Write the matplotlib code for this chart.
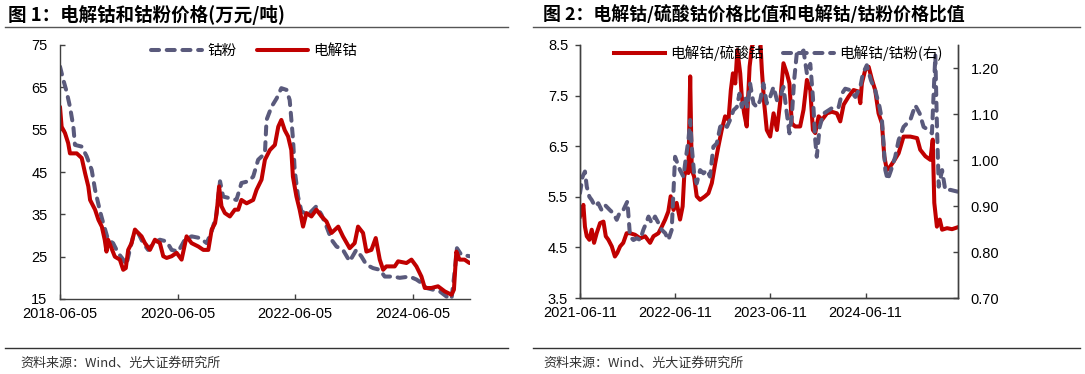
import matplotlib
matplotlib.use('Agg')
import matplotlib.pyplot as plt
import matplotlib.dates as mdates
import pandas as pd


# =============================================================================
# Data
# =============================================================================
# Figure 1: electrolytic cobalt and cobalt powder prices (10k yuan / t)
metal_dates = [
    '2018-06-05', '2018-06-15', '2018-07-06', '2018-07-26', '2018-08-06',
    '2018-09-17', '2018-10-18', '2018-11-08', '2018-11-28', '2018-12-09',
    '2019-01-09', '2019-01-30', '2019-02-20', '2019-03-10', '2019-03-21',
    '2019-03-31', '2019-04-21', '2019-05-12', '2019-06-12', '2019-07-03',
    '2019-07-19', '2019-08-03', '2019-08-24', '2019-09-14', '2019-10-04',
    '2019-10-25', '2019-11-15', '2019-12-16', '2020-01-16', '2020-02-16',
    '2020-03-08', '2020-03-29', '2020-04-29', '2020-05-30', '2020-06-30',
    '2020-07-31', '2020-08-31', '2020-10-12', '2020-11-12', '2020-12-13',
    '2021-01-03', '2021-01-24', '2021-02-03', '2021-02-18', '2021-03-05',
    '2021-03-26', '2021-04-26', '2021-05-27', '2021-06-17', '2021-07-07',
    '2021-08-08', '2021-09-18', '2021-10-09', '2021-11-09', '2021-11-30',
    '2021-12-31', '2022-01-31', '2022-02-21', '2022-03-12', '2022-04-02',
    '2022-04-23', '2022-05-13', '2022-05-23', '2022-06-14', '2022-07-04',
    '2022-07-25', '2022-08-15', '2022-09-15', '2022-10-16', '2022-11-17',
    '2022-12-18', '2023-01-18', '2023-03-01', '2023-03-30', '2023-05-11',
    '2023-06-11', '2023-07-02', '2023-08-02', '2023-08-23', '2023-09-23',
    '2023-10-20', '2023-11-14', '2023-12-05', '2023-12-25', '2024-02-15',
    '2024-03-07', '2024-04-28', '2024-05-29', '2024-06-29', '2024-07-30',
    '2024-08-20', '2024-09-30', '2024-11-10', '2024-12-22', '2025-02-02',
    '2025-02-17', '2025-03-04', '2025-03-24', '2025-04-24', '2025-05-25']
cobalt_metal = [
    60.4, 55.7, 54.2, 51.8, 49.4, 49.4, 48.3, 44.7, 41.6, 38.4,
    36.1, 33.7, 32.1, 29.0, 26.2, 29.0, 27.0, 25.0, 24.3, 21.9,
    22.3, 26.6, 28.2, 31.4, 30.6, 29.8, 28.2, 26.6, 29.0, 28.2,
    25.1, 24.7, 25.1, 25.9, 24.3, 29.8, 28.2, 27.4, 26.6, 26.6,
    31.4, 32.9, 35.3, 41.6, 36.9, 35.3, 34.5, 36.1, 36.1, 38.4,
    37.6, 38.4, 40.8, 43.2, 47.9, 50.2, 51.4, 55.7, 57.3, 54.9,
    53.4, 50.2, 43.9, 39.2, 36.1, 32.1, 35.3, 34.5, 36.1, 34.5,
    33.3, 30.6, 32.1, 29.8, 27.0, 28.2, 32.1, 30.6, 26.2, 26.6,
    29.4, 24.3, 21.9, 22.7, 22.7, 23.9, 23.5, 24.3, 22.7, 20.3,
    17.6, 17.6, 18.0, 16.8, 16.0, 17.2, 26.2, 24.3, 24.3, 23.5]

powder_dates = [
    '2018-06-05', '2018-06-26', '2018-07-16', '2018-08-06', '2018-08-27',
    '2018-09-06', '2018-10-18', '2018-11-18', '2018-12-19', '2019-01-09',
    '2019-02-09', '2019-03-01', '2019-03-31', '2019-05-01', '2019-06-01',
    '2019-07-03', '2019-07-23', '2019-08-13', '2019-09-03', '2019-10-04',
    '2019-11-04', '2019-12-05', '2020-01-05', '2020-02-16', '2020-03-29',
    '2020-04-29', '2020-06-09', '2020-07-20', '2020-08-31', '2020-10-22',
    '2020-12-03', '2021-01-03', '2021-01-30', '2021-02-24', '2021-03-15',
    '2021-04-26', '2021-06-06', '2021-07-07', '2021-08-18', '2021-09-18',
    '2021-10-19', '2021-11-30', '2021-12-10', '2022-01-10', '2022-02-11',
    '2022-03-12', '2022-04-13', '2022-05-03', '2022-05-24', '2022-06-03',
    '2022-06-24', '2022-07-15', '2022-08-25', '2022-10-16', '2022-11-17',
    '2022-12-18', '2023-01-18', '2023-02-18', '2023-03-30', '2023-05-11',
    '2023-06-21', '2023-07-22', '2023-08-23', '2023-10-03', '2023-11-14',
    '2023-12-15', '2024-02-05', '2024-03-17', '2024-05-18', '2024-06-29',
    '2024-07-30', '2024-08-30', '2024-10-10', '2024-11-21', '2025-01-01',
    '2025-02-02', '2025-02-23', '2025-03-08', '2025-04-03', '2025-05-25']
cobalt_powder = [
    69.9, 66.7, 64.0, 60.4, 55.7, 51.4, 51.0, 48.7, 45.5, 40.8,
    35.7, 32.9, 29.0, 28.2, 25.9, 24.3, 23.1, 26.6, 29.8, 30.6,
    28.2, 26.6, 28.2, 29.0, 28.6, 26.6, 26.2, 29.0, 29.8, 29.4,
    28.2, 31.0, 34.5, 42.8, 39.2, 38.8, 38.4, 42.4, 42.8, 43.9,
    47.9, 49.4, 57.3, 60.4, 62.4, 64.8, 64.4, 62.0, 52.6, 45.5,
    39.2, 35.7, 34.9, 36.9, 34.9, 32.1, 29.0, 27.4, 26.6, 23.9,
    26.6, 25.1, 23.1, 22.3, 21.9, 20.3, 20.3, 20.0, 20.3, 19.6,
    18.8, 17.6, 17.2, 16.8, 15.6, 15.0, 21.9, 27.0, 25.5, 25.1]

# Figure 2: price ratios
sulfate_dates = [
    '2021-06-11', '2021-06-17', '2021-06-24', '2021-06-30', '2021-07-07',
    '2021-07-17', '2021-07-26', '2021-08-04', '2021-08-14', '2021-08-27',
    '2021-09-09', '2021-09-18', '2021-09-28', '2021-10-11', '2021-10-23',
    '2021-11-01', '2021-11-12', '2021-11-24', '2021-12-07', '2021-12-20',
    '2022-01-08', '2022-01-28', '2022-02-16', '2022-03-07', '2022-03-20',
    '2022-04-08', '2022-04-21', '2022-05-04', '2022-05-16', '2022-05-25',
    '2022-06-05', '2022-06-17', '2022-06-30', '2022-07-10', '2022-07-16',
    '2022-07-26', '2022-08-01', '2022-08-08', '2022-08-14', '2022-08-23',
    '2022-09-02', '2022-09-15', '2022-10-04', '2022-10-17', '2022-10-30',
    '2022-11-12', '2022-11-24', '2022-12-07', '2022-12-20', '2023-01-02',
    '2023-01-11', '2023-01-19', '2023-01-28', '2023-02-05', '2023-02-16',
    '2023-02-22', '2023-03-03', '2023-03-13', '2023-03-24', '2023-04-02',
    '2023-04-14', '2023-05-04', '2023-05-10', '2023-05-19', '2023-05-29',
    '2023-06-11', '2023-06-24', '2023-07-07', '2023-07-19', '2023-08-01',
    '2023-08-14', '2023-08-24', '2023-09-02', '2023-09-15', '2023-10-04',
    '2023-10-17', '2023-10-30', '2023-11-12', '2023-11-22', '2023-12-01',
    '2023-12-14', '2023-12-27', '2024-01-15', '2024-02-03', '2024-02-22',
    '2024-03-06', '2024-03-19', '2024-04-07', '2024-04-26', '2024-05-15',
    '2024-05-22', '2024-05-28', '2024-06-10', '2024-06-23', '2024-07-06',
    '2024-07-18', '2024-07-31', '2024-08-13', '2024-08-22', '2024-09-01',
    '2024-09-14', '2024-09-27', '2024-10-16', '2024-11-04', '2024-11-30',
    '2024-12-26', '2025-01-07', '2025-01-27', '2025-02-15', '2025-02-24',
    '2025-03-02', '2025-03-12', '2025-03-23', '2025-04-01', '2025-04-20',
    '2025-05-09', '2025-06-01']
ratio_sulfate = [
    5.11, 5.21, 5.34, 4.91, 4.72, 4.65, 4.85, 4.59, 4.78, 4.98,
    5.01, 4.72, 4.65, 4.52, 4.32, 4.39, 4.52, 4.59, 4.78, 4.78,
    4.75, 4.68, 4.72, 4.59, 4.72, 4.78, 4.91, 5.05, 5.21, 5.51,
    5.24, 5.38, 5.05, 5.31, 5.90, 6.10, 5.97, 7.88, 6.03, 5.90,
    5.51, 5.44, 5.51, 5.57, 5.77, 6.16, 6.49, 6.82, 7.09, 7.02,
    7.61, 7.94, 7.74, 8.40, 7.94, 7.48, 7.15, 6.89, 8.07, 8.47,
    8.60, 8.60, 8.01, 7.35, 6.82, 6.69, 7.15, 6.82, 7.35, 8.14,
    7.94, 7.74, 6.95, 6.89, 6.89, 7.22, 7.81, 7.61, 6.82, 6.76,
    7.09, 7.02, 7.15, 7.18, 7.15, 6.99, 7.32, 7.48, 7.61, 7.58,
    7.35, 7.74, 8.01, 8.07, 7.81, 7.61, 7.15, 6.95, 6.30, 6.03,
    6.10, 6.20, 6.36, 6.69, 6.69, 6.66, 6.43, 6.30, 6.23, 6.63,
    5.38, 4.91, 5.05, 4.85, 4.88, 4.86, 4.90]

ratio_powder_dates = [
    '2021-06-11', '2021-06-21', '2021-06-30', '2021-07-07', '2021-07-17',
    '2021-07-26', '2021-08-08', '2021-08-20', '2021-09-02', '2021-09-15',
    '2021-10-04', '2021-10-17', '2021-10-30', '2021-11-12', '2021-11-24',
    '2021-12-10', '2021-12-20', '2022-01-02', '2022-01-15', '2022-01-28',
    '2022-02-09', '2022-02-20', '2022-03-01', '2022-03-13', '2022-03-26',
    '2022-04-08', '2022-04-21', '2022-05-04', '2022-05-16', '2022-05-29',
    '2022-06-11', '2022-06-20', '2022-06-30', '2022-07-13', '2022-07-23',
    '2022-08-01', '2022-08-08', '2022-08-14', '2022-08-23', '2022-09-02',
    '2022-09-15', '2022-09-28', '2022-10-11', '2022-10-23', '2022-11-05',
    '2022-11-18', '2022-12-01', '2022-12-14', '2022-12-27', '2023-01-08',
    '2023-01-21', '2023-02-03', '2023-02-13', '2023-02-22', '2023-03-07',
    '2023-03-16', '2023-03-26', '2023-04-08', '2023-04-21', '2023-05-04',
    '2023-05-16', '2023-05-29', '2023-06-11', '2023-06-24', '2023-07-07',
    '2023-07-19', '2023-08-01', '2023-08-14', '2023-08-24', '2023-09-02',
    '2023-09-11', '2023-09-21', '2023-10-04', '2023-10-17', '2023-10-30',
    '2023-11-12', '2023-11-22', '2023-12-01', '2023-12-07', '2023-12-18',
    '2024-01-02', '2024-01-21', '2024-02-09', '2024-02-29', '2024-03-12',
    '2024-03-25', '2024-04-13', '2024-05-03', '2024-05-22', '2024-06-01',
    '2024-06-16', '2024-07-02', '2024-07-18', '2024-08-04', '2024-08-13',
    '2024-08-26', '2024-09-04', '2024-09-17', '2024-10-03', '2024-10-16',
    '2024-11-04', '2024-11-30', '2024-12-19', '2025-01-05', '2025-01-20',
    '2025-02-08', '2025-02-21', '2025-02-28', '2025-03-06', '2025-03-12',
    '2025-03-19', '2025-04-01', '2025-04-13', '2025-05-03', '2025-06-01']
ratio_powder = [
    0.928, 0.964, 0.975, 0.942, 0.920, 0.913, 0.899, 0.906, 0.891, 0.902,
    0.891, 0.884, 0.870, 0.888, 0.891, 0.910, 0.834, 0.826, 0.830, 0.826,
    0.848, 0.863, 0.877, 0.863, 0.877, 0.863, 0.848, 0.841, 0.826, 0.848,
    1.007, 0.993, 0.978, 0.964, 1.007, 1.043, 1.087, 1.029, 0.971, 0.949,
    0.978, 0.971, 0.978, 0.964, 1.029, 1.036, 1.072, 1.079, 1.072, 1.087,
    1.108, 1.115, 1.144, 1.115, 1.137, 1.115, 1.166, 1.123, 1.115, 1.130,
    1.166, 1.123, 1.137, 1.159, 1.130, 1.137, 1.159, 1.101, 1.058, 1.094,
    1.173, 1.231, 1.231, 1.238, 1.188, 1.209, 1.137, 1.043, 1.007, 1.072,
    1.101, 1.108, 1.115, 1.115, 1.144, 1.155, 1.152, 1.137, 1.159, 1.188,
    1.206, 1.173, 1.152, 1.115, 1.087, 0.978, 0.957, 0.978, 1.007, 1.043,
    1.072, 1.087, 1.119, 1.101, 1.072, 1.065, 1.058, 1.152, 1.227, 1.079,
    0.942, 0.978, 0.935, 0.935, 0.931]

left_ticks = ['2018-06-05', '2020-06-05', '2022-06-05', '2024-06-05']
right_ticks = ['2021-06-11', '2022-06-11', '2023-06-11', '2024-06-11']
left_yticks = [15, 25, 35, 45, 55, 65, 75]
ratio_yticks = [3.5, 4.5, 5.5, 6.5, 7.5, 8.5]
ratio2_yticks = [0.70, 0.80, 0.90, 1.00, 1.10, 1.20]


# =============================================================================
# Plot parameters
# =============================================================================
plt.rcParams['font.family'] = ['Liberation Sans', 'Noto Sans CJK SC']
fontsize = 10.5
red = '#C00000'
slate = '#5A5A7C'
spine_color = '#404040'
lw = 2.9

fig = plt.figure(figsize=(10.85, 3.74), dpi=100)


def style_axis(ax, spines):
    for side in ['left', 'right', 'top', 'bottom']:
        ax.spines[side].set_visible(side in spines)
        ax.spines[side].set_color(spine_color)
        ax.spines[side].set_linewidth(1.0)
    ax.tick_params(colors=spine_color, labelcolor='black',
                   labelsize=fontsize, length=3.5, width=1.0)


# =============================================================================
# Header / footer decorations
# =============================================================================
cjk = ['Noto Sans CJK SC', 'DejaVu Sans']
fig.text(8 / 1085, 1 - 15 / 374, '图 1：电解钴和钴粉价格(万元/吨)',
         fontsize=13.3, fontweight='bold', family=cjk, va='center')
fig.text(543 / 1085, 1 - 15 / 374, '图 2：电解钴/硫酸钴价格比值和电解钴/钴粉价格比值',
         fontsize=12.9, fontweight='bold', family=cjk, va='center')
for x0, x1 in [(5, 508), (533, 1080)]:
    fig.add_artist(plt.Line2D([x0 / 1085, x1 / 1085], [1 - 27 / 374] * 2,
                              color='#555555', linewidth=1.0))
    fig.add_artist(plt.Line2D([x0 / 1085, x1 / 1085], [1 - 348 / 374] * 2,
                              color='#333333', linewidth=1.0))
fig.text(20 / 1085, 1 - 363 / 374, '资料来源：Wind、光大证券研究所',
         fontsize=9.4, family=cjk, va='center', color='#333333')
fig.text(543 / 1085, 1 - 363 / 374, '资料来源：Wind、光大证券研究所',
         fontsize=9.4, family=cjk, va='center', color='#333333')


# =============================================================================
# Figure 1: prices
# =============================================================================
ax1 = fig.add_axes([60 / 1085, 75 / 374, 410 / 1085, 254 / 374])
style_axis(ax1, ['left', 'bottom'])
ax1.plot(pd.to_datetime(powder_dates), cobalt_powder, color=slate,
         linewidth=lw, dashes=(2.0, 1.9), dash_capstyle='round',
         label='钴粉')
ax1.plot(pd.to_datetime(metal_dates), cobalt_metal, color=red,
         linewidth=lw, solid_capstyle='round', label='电解钴')
ax1.set_xlim(pd.Timestamp('2018-06-05'), pd.Timestamp('2025-05-28'))
ax1.set_ylim(15, 75)
ax1.set_yticks(left_yticks)
ax1.set_xticks(pd.to_datetime(left_ticks))
ax1.xaxis.set_major_formatter(mdates.DateFormatter('%Y-%m-%d'))
ax1.tick_params(axis='y', direction='in', pad=9)
ax1.tick_params(axis='x', direction='in', pad=6)
leg1 = ax1.legend(loc='center', bbox_to_anchor=(0.473, 0.975), ncol=2,
                  frameon=False, handlelength=3.5, handletextpad=0.35,
                  columnspacing=1.4, prop={'family': cjk, 'size': 10.5})


# =============================================================================
# Figure 2: ratios
# =============================================================================
ax2 = fig.add_axes([580 / 1085, 76 / 374, 378 / 1085, 253 / 374])
style_axis(ax2, ['left', 'bottom', 'right'])
l1, = ax2.plot(pd.to_datetime(sulfate_dates), ratio_sulfate, color=red,
               linewidth=lw, label='电解钴/硫酸钴')
ax2.set_xlim(pd.Timestamp('2021-06-11'), pd.Timestamp('2025-06-01'))
ax2.set_ylim(3.5, 8.5)
ax2.set_yticks(ratio_yticks)
ax2.set_yticklabels([f'{v:.1f}' for v in ratio_yticks])
ax2.set_xticks(pd.to_datetime(right_ticks))
ax2.xaxis.set_major_formatter(mdates.DateFormatter('%Y-%m-%d'))
ax2.tick_params(axis='y', direction='out', pad=5)
ax2.tick_params(axis='x', direction='in', pad=6)

ax3 = ax2.twinx()
style_axis(ax3, ['left', 'bottom', 'right'])
l2, = ax3.plot(pd.to_datetime(ratio_powder_dates), ratio_powder, color=slate,
               linewidth=lw, dashes=(2.0, 1.9), dash_capstyle='round',
               label='电解钴/钴粉(右)')
ax3.set_ylim(0.70, 1.25)
ax3.set_yticks(ratio2_yticks)
ax3.set_yticklabels([f'{v:.2f}' for v in ratio2_yticks])
ax3.tick_params(axis='y', direction='in', pad=9)
ax3.legend(handles=[l1, l2], loc='center', bbox_to_anchor=(0.524, 0.968),
           ncol=2, frameon=False, handlelength=3.5, handletextpad=0.35,
           columnspacing=1.3, prop={'family': cjk, 'size': 10.5})

fig.savefig('out.png', dpi=100)
